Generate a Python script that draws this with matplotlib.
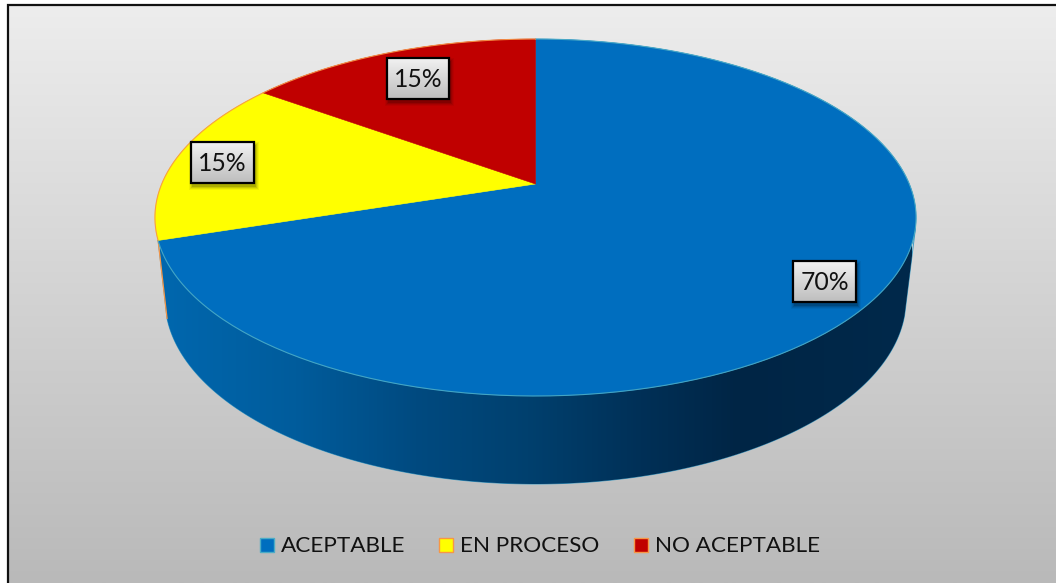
import numpy as np
import matplotlib
matplotlib.use("Agg")
import matplotlib.pyplot as plt
from matplotlib.colors import LinearSegmentedColormap
from matplotlib.patches import Polygon, Rectangle

categories = ["ACEPTABLE", "EN PROCESO", "NO ACEPTABLE"]
shares = [70, 15, 15]
slice_colors = ["#006EBF", "#FFFF00", "#C00000"]
edge_colors = ["#4BACC6", "#F79646", "#F79646"]

plt.rcParams["font.family"] = ["Lato", "DejaVu Sans"]

W, H = 1056, 583
fig = plt.figure(figsize=(W / 100, H / 100), dpi=100, facecolor="white")
ax = fig.add_axes([0, 0, 1, 1])


def vertical_gradient(x0, x1, y0, y1, top, bottom, zorder):
    cmap = LinearSegmentedColormap.from_list("g", [top, bottom])
    return ax.imshow(np.linspace(0, 1, 256).reshape(-1, 1), cmap=cmap, aspect="auto",
                     extent=(x0, x1, y1, y0), zorder=zorder, interpolation="bilinear")


# Panel background and its frame
vertical_gradient(8, W, 5, H, "#EDEDED", "#B9B9B9", 1)
ax.plot([8, 8, W], [H, 5, 5], color="#111111", lw=1.6, zorder=2, solid_joinstyle="miter")

# Tilted disc: a unit circle seen in perspective
CX, CY = 535.5, 184.0
AX_X, AX_Y, K = 373.8, 172.2, 0.1877


def disc_point(fraction):
    """Map a clockwise fraction of the circle, measured from 12 o'clock, to the page."""
    theta = 2 * np.pi * np.asarray(fraction)
    u, v = np.sin(theta), -np.cos(theta)
    w = 1 - K * v
    return CX + AX_X * u / w, CY + AX_Y * v / w


# Cylinder wall, shaded left to right and clipped to its outline
first_end = shares[0] / sum(shares)
BX, BY, BA, BB = 535.5, 299.0, 370.5, 185.0
phi = np.linspace(np.radians(5), np.radians(174), 300)
base_x = BX + BA * np.cos(phi)
base_y = BY + BB * np.sin(phi)
ex, ey = disc_point(first_end)
wall = np.vstack([[[915.5, 228]], np.column_stack([base_x, base_y]), [[ex, ey]], [[535, 228]]])
wall_patch = Polygon(wall, closed=True, facecolor="none", edgecolor="#3F9CC4", lw=0.7, zorder=3)
ax.add_patch(wall_patch)
wall_cmap = LinearSegmentedColormap.from_list(
    "wall",
    [(0.0, "#0067AE"), (0.18, "#005C9C"), (0.34, "#004A80"), (0.49, "#00406E"),
     (0.64, "#003057"), (0.77, "#002545"), (1.0, "#00294B")],
)
shade = ax.imshow(np.linspace(0, 1, 512).reshape(1, -1), cmap=wall_cmap, aspect="auto",
                  extent=(160, 912, 490, 210), zorder=3, interpolation="bilinear")
shade.set_clip_path(wall_patch)
ax.plot([ex, base_x[-1]], [ey, base_y[-1]], color="#F79646", lw=0.9, zorder=4)

# Slices of the top face
start = 0.0
total = sum(shares)
for value, face, edge in zip(shares, slice_colors, edge_colors):
    end = start + value / total
    fr = np.linspace(start, end, 240)
    x, y = disc_point(fr)
    pts = np.vstack([[[CX, CY]], np.column_stack([x, y])])
    ax.add_patch(Polygon(pts, closed=True, facecolor=face, edgecolor=face, lw=0.4, zorder=5))
    ax.plot(x, y, color=edge, lw=0.8, zorder=6, alpha=0.9)
    start = end

# Data labels in raised boxes
label_boxes = [(793, 856, 261, 302), (191, 254, 142, 183), (387, 449, 58, 99)]
for value, (x0, x1, y0, y1) in zip(shares, label_boxes):
    for grow, alpha in [(7, 0.05), (5, 0.07), (3, 0.10), (1, 0.14)]:
        ax.add_patch(Rectangle((x0 + 1 - grow / 2, y0 + 3 - grow / 2), x1 - x0 + grow, y1 - y0 + grow,
                               facecolor="black", edgecolor="none", alpha=alpha, zorder=7))
    vertical_gradient(x0, x1, y0, y1, "#F2F2F2", "#BDBDBD", 8)
    ax.add_patch(Rectangle((x0, y0), x1 - x0, y1 - y0, facecolor="none",
                           edgecolor="black", lw=1.6, zorder=9))
    ax.text((x0 + x1) / 2, (y0 + y1) / 2 + 1, f"{value}%", ha="center", va="center",
            fontsize=17.8, color="#111111", zorder=10)

# Legend row
marker_x = [260, 439, 634]
text_x = [281, 460, 655]
for name, mx, tx, face, edge in zip(categories, marker_x, text_x, slice_colors, edge_colors):
    ax.add_patch(Rectangle((mx, 538), 14, 14, facecolor=face, edgecolor=edge, lw=1.0, zorder=5))
    ax.text(tx, 546, name, ha="left", va="center", fontsize=16.2, color="#111111", zorder=5)

ax.set_xlim(0, W)
ax.set_ylim(H, 0)
ax.axis("off")
fig.savefig("out.png", dpi=100, facecolor="white")
